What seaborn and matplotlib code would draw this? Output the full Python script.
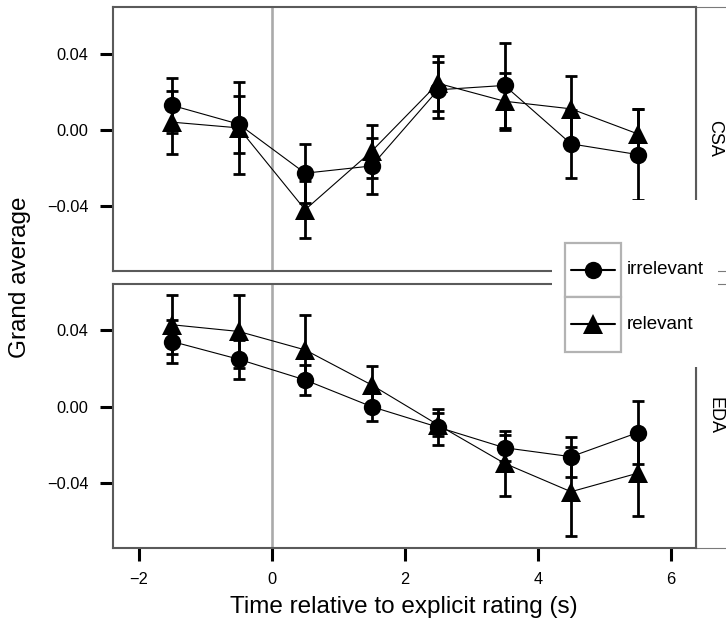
import matplotlib
matplotlib.use("Agg")
import matplotlib.pyplot as plt
import pandas as pd
import seaborn as sns
from matplotlib.patches import Rectangle
from matplotlib.lines import Line2D

# time bins (s) relative to the explicit rating
time_bins = [-1.5, -0.5, 0.5, 1.5, 2.5, 3.5, 4.5, 5.5]
signals = ["CSA", "EDA"]
conditions = ["irrelevant", "relevant"]

csa_irrelevant = [0.0128, 0.003, -0.0228, -0.019, 0.021, 0.0233, -0.0074, -0.013]
csa_irrelevant_se = [0.0145, 0.015, 0.0154, 0.0145, 0.0147, 0.0225, 0.0178, 0.0238]
csa_relevant = [0.004, 0.001, -0.042, -0.0113, 0.0244, 0.0150, 0.011, -0.0021]
csa_relevant_se = [0.0166, 0.024, 0.015, 0.014, 0.0146, 0.015, 0.017, 0.0131]

eda_irrelevant = [0.0342, 0.0249, 0.014, 0.0, -0.0108, -0.0216, -0.0263, -0.0137]
eda_irrelevant_se = [0.0114, 0.0103, 0.0078, 0.0074, 0.0094, 0.0067, 0.0105, 0.0167]
eda_relevant = [0.043, 0.0395, 0.0298, 0.0114, -0.0096, -0.0298, -0.0447, -0.035]
eda_relevant_se = [0.0154, 0.0193, 0.0184, 0.010, 0.006, 0.0172, 0.0233, 0.0225]

rows = []
series = {
    ("CSA", "irrelevant"): (csa_irrelevant, csa_irrelevant_se),
    ("CSA", "relevant"): (csa_relevant, csa_relevant_se),
    ("EDA", "irrelevant"): (eda_irrelevant, eda_irrelevant_se),
    ("EDA", "relevant"): (eda_relevant, eda_relevant_se),
}
for (sig, cond), (vals, ses) in series.items():
    for t, v, s in zip(time_bins, vals, ses):
        rows.append({"signal": sig, "condition": cond, "time": t, "value": v, "se": s})
df = pd.DataFrame(rows)

sns.set_style("white")
plt.rcParams["font.family"] = ["Liberation Sans", "DejaVu Sans"]
plt.rcParams["text.color"] = "black"

W, H = 726, 622
fig, axs = plt.subplots(2, 1, figsize=(W / 100, H / 100), dpi=100, sharex=True, sharey=True)
fig.subplots_adjust(left=113 / W, right=696 / W, top=1 - 7 / H, bottom=1 - 547.5 / H, hspace=0.05)

marker_style = {"irrelevant": ("o", 12.5), "relevant": ("^", 14.5)}

for ax, sig in zip(axs, signals):
    ax.axvline(0, color="#aaaaaa", lw=1.9, zorder=1)
    sub = df[df["signal"] == sig]
    for cond in conditions:
        d = sub[sub["condition"] == cond]
        ax.errorbar(d["time"], d["value"], yerr=d["se"], fmt="none", ecolor="black",
                    elinewidth=2.0, capsize=4.5, capthick=2.0, zorder=2)
        mk, ms = marker_style[cond]
        sns.lineplot(data=d, x="time", y="value", ax=ax, color="black", lw=0.8,
                     marker=mk, markersize=ms, markeredgewidth=0, errorbar=None,
                     legend=False, zorder=3)
    ax.set_xlim(-2.39, 6.38)
    ax.set_ylim(-0.074, 0.0645)
    ax.set_xlabel("")
    ax.set_ylabel("")
    for sp in ax.spines.values():
        sp.set_color("#5a5a5a")
        sp.set_linewidth(1.5)
    ax.tick_params(axis="both", direction="out", length=9.5, width=2.2, color="black",
                   labelsize=11.8, labelcolor="black", pad=8, left=True, bottom=True)
    ax.set_yticks([-0.04, 0.0, 0.04])
    ax.set_yticklabels(["\u22120.04", "0.00", "0.04"])
    # facet strip on the right
    ax.add_patch(Rectangle((1, 0), 0.08, 1, transform=ax.transAxes, facecolor="none",
                           edgecolor="#7a7a7a", lw=0.8, clip_on=False, zorder=0))
    ax.text(1.0326, 0.5, sig, transform=ax.transAxes, rotation=270, ha="center",
            va="center", fontsize=13, color="black")

axs[0].tick_params(axis="x", bottom=False, labelbottom=False)
axs[1].set_xticks([-2, 0, 2, 4, 6])
axs[1].set_xticklabels(["\u22122", "0", "2", "4", "6"])

fig.text(404 / W, 1 - 607 / H, "Time relative to explicit rating (s)", ha="center",
         va="center", fontsize=17.5, color="black")
fig.text(20 / W, 1 - 277 / H, "Grand average", ha="center", va="center",
         rotation=90, fontsize=17.5, color="black")


def fx(x):
    return x / W


def fy(y):
    return 1 - y / H


# legend drawn by hand, ggplot style, overlapping the panels
fig.add_artist(Rectangle((fx(552), fy(367)), 166 / W, 167 / H, transform=fig.transFigure,
                         facecolor="white", edgecolor="none", zorder=5))
keys = [("irrelevant", 243, 297), ("relevant", 297, 352)]
for cond, y0, y1 in keys:
    fig.add_artist(Rectangle((fx(565), fy(y1)), 56 / W, (y1 - y0) / H,
                             transform=fig.transFigure, facecolor="white",
                             edgecolor="#b3b3b3", lw=1.6, zorder=6))
    yc = (y0 + y1) / 2
    fig.add_artist(Line2D([fx(571), fx(615)], [fy(yc), fy(yc)], transform=fig.transFigure,
                          color="black", lw=1.5, zorder=7))
    mk, ms = marker_style[cond]
    fig.add_artist(Line2D([fx(593)], [fy(yc)], transform=fig.transFigure, marker=mk,
                          markersize=ms, color="black", markeredgewidth=0, zorder=8))
    fig.text(fx(627), fy(yc), cond, ha="left", va="center", fontsize=13.5, zorder=8,
             color="black")

fig.savefig("out.png", dpi=100)
